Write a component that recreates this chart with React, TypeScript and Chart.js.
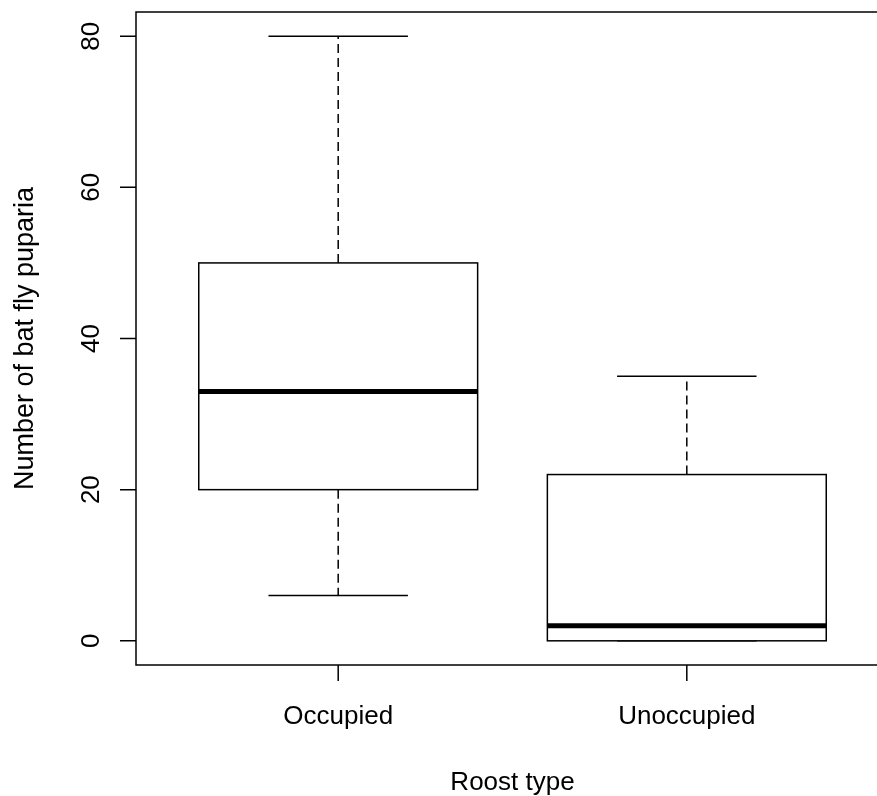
import React, { useEffect, useRef } from "react";
import { Chart, registerables } from "chart.js";

Chart.register(...registerables);

const categories = ["Occupied", "Unoccupied"];
const whiskerLow = [6, 0];
const q1 = [20, 0];
const median = [33, 2];
const q3 = [50, 22];
const whiskerHigh = [80, 35];
const yTicks = [0, 20, 40, 60, 80];
const xTitle = "Roost type";
const yTitle = "Number of bat fly puparia";

const FONT = '26px "Liberation Sans", Arial, sans-serif';
const TITLE_FONT = '27px "Liberation Sans", Arial, sans-serif';

const boxPlugin = {
  id: "boxplotR",
  afterDraw(chart: any) {
    const ctx = chart.ctx as CanvasRenderingContext2D;
    const xs = chart.scales.x;
    const ys = chart.scales.y;
    const area = chart.chartArea;
    ctx.save();
    ctx.strokeStyle = "#000";
    ctx.fillStyle = "#000";
    ctx.lineCap = "butt";

    categories.forEach((_, i) => {
      const c = i + 1;
      const xl = xs.getPixelForValue(c - 0.4);
      const xr = xs.getPixelForValue(c + 0.4);
      const xc = xs.getPixelForValue(c);
      const capL = xs.getPixelForValue(c - 0.2);
      const capR = xs.getPixelForValue(c + 0.2);
      const yLo = ys.getPixelForValue(whiskerLow[i]);
      const yQ1 = ys.getPixelForValue(q1[i]);
      const yMed = ys.getPixelForValue(median[i]);
      const yQ3 = ys.getPixelForValue(q3[i]);
      const yHi = ys.getPixelForValue(whiskerHigh[i]);

      ctx.lineWidth = 1.5;
      ctx.setLineDash([9, 5]);
      ctx.beginPath();
      ctx.moveTo(xc, yQ3);
      ctx.lineTo(xc, yHi);
      ctx.moveTo(xc, yQ1);
      ctx.lineTo(xc, yLo);
      ctx.stroke();
      ctx.setLineDash([]);

      ctx.beginPath();
      ctx.moveTo(capL, yHi);
      ctx.lineTo(capR, yHi);
      ctx.moveTo(capL, yLo);
      ctx.lineTo(capR, yLo);
      ctx.stroke();

      ctx.fillStyle = "#fff";
      ctx.fillRect(xl, yQ3, xr - xl, yQ1 - yQ3);
      ctx.strokeRect(xl, yQ3, xr - xl, yQ1 - yQ3);

      ctx.lineWidth = 5;
      ctx.beginPath();
      ctx.moveTo(xl, yMed);
      ctx.lineTo(xr, yMed);
      ctx.stroke();
    });

    ctx.lineWidth = 1.5;
    ctx.strokeRect(area.left, area.top, area.right - area.left, area.bottom - area.top);

    ctx.fillStyle = "#000";
    ctx.font = FONT;
    ctx.beginPath();
    yTicks.forEach((v) => {
      const y = ys.getPixelForValue(v);
      ctx.moveTo(area.left - 16, y);
      ctx.lineTo(area.left, y);
    });
    categories.forEach((_, i) => {
      const x = xs.getPixelForValue(i + 1);
      ctx.moveTo(x, area.bottom);
      ctx.lineTo(x, area.bottom + 16);
    });
    ctx.stroke();

    yTicks.forEach((v) => {
      const y = ys.getPixelForValue(v);
      ctx.save();
      ctx.translate(area.left - 37, y);
      ctx.rotate(-Math.PI / 2);
      ctx.textAlign = "center";
      ctx.textBaseline = "alphabetic";
      ctx.fillText(String(v), 0, 0);
      ctx.restore();
    });

    ctx.textAlign = "center";
    ctx.textBaseline = "alphabetic";
    categories.forEach((label, i) => {
      const x = xs.getPixelForValue(i + 1);
      ctx.fillText(label, x, area.bottom + 59);
    });

    ctx.fillText(xTitle, (area.left + area.right) / 2, area.bottom + 125);

    ctx.save();
    ctx.font = TITLE_FONT;
    ctx.translate(33, (area.top + area.bottom) / 2);
    ctx.rotate(-Math.PI / 2);
    ctx.fillText(yTitle, 0, 0);
    ctx.restore();

    ctx.restore();
  },
};

export default function App() {
  const ref = useRef<HTMLCanvasElement | null>(null);
  useEffect(() => {
    document.body.style.margin = "0";
    document.body.style.overflow = "hidden";
    const canvas = ref.current!;
    const chart = new Chart(canvas, {
      type: "scatter",
      data: {
        datasets: [
          {
            data: median.map((m, i) => ({ x: i + 1, y: m })),
            pointRadius: 0,
            showLine: false,
          },
        ],
      },
      options: {
        responsive: false,
        animation: false,
        layout: { padding: { left: 136, top: 12, right: 11, bottom: 131 } },
        plugins: { legend: { display: false }, tooltip: { enabled: false } },
        scales: {
          x: { type: "linear", min: 0.42, max: 2.58, display: false },
          y: { type: "linear", min: -3.2, max: 83.2, display: false },
        },
        events: [],
      },
      plugins: [boxPlugin],
    });
    return () => chart.destroy();
  }, []);
  return (
    <div style={{ position: "fixed", left: 0, top: 0, width: 877, height: 796, overflow: "hidden", background: "#fff" }}>
      <canvas ref={ref} width={900} height={796} style={{ display: "block" }} />
    </div>
  );
}
